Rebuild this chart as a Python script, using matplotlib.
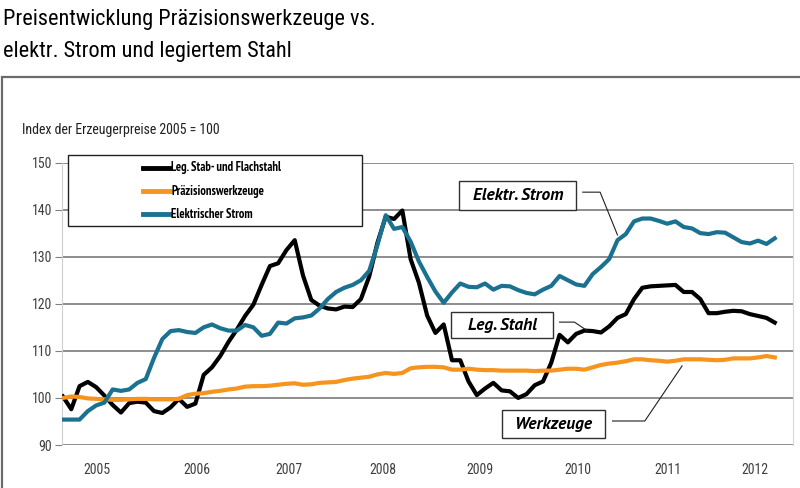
import matplotlib
matplotlib.use("Agg")
import matplotlib.pyplot as plt
from matplotlib.patches import Rectangle
from matplotlib.lines import Line2D

# narrow Arial-like look; falls back to Liberation/DejaVu if missing
plt.rcParams['font.family'] = ['Roboto Condensed', 'Liberation Sans', 'DejaVu Sans']
legend_font = ['PT Sans Narrow', 'Roboto Condensed', 'Liberation Sans', 'DejaVu Sans']
note_font = ['PT Sans', 'Liberation Sans', 'DejaVu Sans']

# monthly index values, Jan 2005 .. Mar 2012 (2005 = 100)
stahl = [100.3, 97.6, 102.5, 103.4, 102.3, 100.5, 98.5, 96.9, 98.9, 99.2,
         99.0, 97.2, 96.8, 98.0, 99.8, 98.1, 98.8, 104.9, 106.5, 108.9,
         111.9, 114.5, 117.4, 119.8, 124.0, 128.0, 128.6, 131.4, 133.5, 126.0,
         120.8, 119.6, 119.0, 118.8, 119.4, 119.3, 121.0, 125.8, 133.0, 138.5,
         138.0, 139.8, 129.5, 124.5, 117.5, 113.8, 115.6, 108.0, 108.0, 103.5,
         100.6, 102.0, 103.2, 101.6, 101.4, 100.0, 100.8, 102.7, 103.5, 107.5,
         113.4, 111.8, 113.6, 114.3, 114.2, 113.9, 115.2, 117.0, 117.8, 121.0,
         123.4, 123.7, 123.8, 123.9, 124.0, 122.5, 122.5, 121.0, 118.0, 118.0,
         118.3, 118.5, 118.4, 117.8, 117.4, 117.0, 116.0]

werkzeuge = [100.0, 100.3, 100.2, 99.9, 99.8, 99.7, 99.6, 99.6, 99.7, 99.8,
             99.8, 99.7, 99.7, 99.7, 99.8, 100.6, 100.9, 101.0, 101.3, 101.5,
             101.8, 102.0, 102.4, 102.5, 102.5, 102.6, 102.8, 103.0, 103.1, 102.8,
             102.9, 103.2, 103.3, 103.4, 103.8, 104.1, 104.3, 104.5, 105.0, 105.3,
             105.1, 105.3, 106.3, 106.5, 106.6, 106.6, 106.5, 106.0, 106.0, 106.2,
             106.0, 105.9, 105.9, 105.8, 105.8, 105.8, 105.8, 105.7, 105.8, 105.8,
             106.0, 106.2, 106.2, 106.0, 106.5, 107.0, 107.3, 107.5, 107.8, 108.2,
             108.2, 108.0, 107.9, 107.7, 107.9, 108.2, 108.2, 108.2, 108.1, 108.0,
             108.1, 108.4, 108.4, 108.4, 108.6, 108.9, 108.6]

strom = [95.4, 95.4, 95.4, 97.2, 98.4, 99.0, 101.8, 101.5, 101.8, 103.2,
         104.0, 108.5, 112.5, 114.2, 114.4, 114.0, 113.8, 115.0, 115.6, 114.8,
         114.3, 114.3, 115.5, 115.0, 113.2, 113.6, 116.0, 115.8, 116.9, 117.1,
         117.5, 119.0, 121.0, 122.5, 123.4, 124.0, 125.0, 127.0, 132.5, 138.8,
         135.9, 136.3, 133.2, 129.0, 125.7, 122.6, 120.2, 122.4, 124.3, 123.6,
         123.5, 124.3, 123.0, 123.8, 123.7, 122.9, 122.3, 122.0, 123.0, 123.8,
         125.9, 125.0, 124.1, 123.8, 126.3, 127.8, 129.5, 133.5, 134.8, 137.5,
         138.1, 138.1, 137.6, 137.0, 137.5, 136.3, 136.0, 135.0, 134.8, 135.2,
         135.1, 134.1, 133.1, 132.8, 133.4, 132.7, 133.9]

months = list(range(len(stahl)))

years = ['2005', '2006', '2007', '2008', '2009', '2010', '2011', '2012']
year_pos = [4.1, 16.2, 27.3, 38.6, 50.4, 62.2, 73.1, 83.6]

legend_labels = ['Leg. Stab- und Flachstahl', 'Präzisionswerkzeuge', 'Elektrischer Strom']
c_stahl = '#000000'
c_werk = '#F7941D'
c_strom = '#1B7290'

fig = plt.figure(figsize=(8, 4.88), dpi=100)
ax = fig.add_axes([0.0775, 0.0881, 0.9137, 0.5789])

ax.plot(months, stahl, color=c_stahl, lw=3, zorder=3)
ax.plot(months, werkzeuge, color=c_werk, lw=3, zorder=3)
ax.plot(months, strom, color=c_strom, lw=3, zorder=3)

ax.set_ylim(90, 150)
ax.set_xlim(-0.12, 88.2)
ax.set_yticks(range(90, 151, 10))
ax.set_xticks(year_pos)
ax.set_xticklabels(years)
ax.tick_params(axis='y', length=5, color='#808080', labelsize=10,
               labelcolor='#404040', pad=2)
ax.tick_params(axis='x', length=0, labelsize=10, labelcolor='#404040', pad=13)
ax.yaxis.grid(True, color='#7a7a7a', lw=1.2)
ax.set_axisbelow(True)
for s in ['top', 'bottom']:
    ax.spines[s].set_visible(False)
ax.spines['left'].set_color('#d0d0d0')
ax.spines['right'].set_color('#d8d8d8')


def px(x, y):
    # pixel position (from top-left) -> figure fraction
    return x / 800, 1 - y / 488


# outer frame
fig.add_artist(Rectangle((2 / 800, -0.1), 1.2, 1 - 77 / 488 + 0.1,
                         transform=fig.transFigure, fill=False,
                         edgecolor='#6b6b6b', lw=1.6))

# title and unit text
fig.text(*px(3, 19), 'Preisentwicklung Präzisionswerkzeuge vs.',
         fontsize=16, va='center', ha='left')
fig.text(*px(3, 51), 'elektr. Strom und legiertem Stahl',
         fontsize=16, va='center', ha='left')
fig.text(*px(22, 130), 'Index der Erzeugerpreise 2005 = 100',
         fontsize=10, va='center', ha='left', color='#202020')

# legend box
fig.add_artist(Rectangle(px(68, 226), 294 / 800, 71 / 488, transform=fig.transFigure,
                         facecolor='white', edgecolor='#202020', lw=1.0))
for lab, col, yy in zip(legend_labels, [c_stahl, c_werk, c_strom], [168, 191, 214]):
    x0, y0 = px(143, yy)
    x1, _ = px(170, yy)
    fig.add_artist(Line2D([x0, x1], [y0, y0], transform=fig.transFigure,
                          color=col, lw=3.5))
    fig.text(px(171, yy)[0], y0, lab, fontsize=9, fontweight='bold',
             family=legend_font, va='center', ha='left')

# annotation boxes with leader lines (data coordinates)
notes = [
    ('Elektr. Strom', (47.9, 139.9, 14.1, 6.2), [(62.8, 143.7), (64.9, 143.7), (67.0, 134.6)]),
    ('Leg. Stahl', (46.9, 112.7, 12.3, 5.5), [(60.0, 116.1), (61.8, 116.1), (63.4, 114.2)]),
    ('Werkzeuge', (53.0, 91.5, 12.5, 5.9), [(66.4, 95.1), (70.3, 95.1), (74.8, 106.8)]),
]
for txt, (bx, by, bw, bh), lead in notes:
    ax.add_patch(Rectangle((bx, by), bw, bh, facecolor='white', edgecolor='#303030',
                           lw=1.0, zorder=5))
    ax.text(bx + bw / 2, by + bh / 2, txt, fontsize=12.5, fontweight='bold',
            fontstyle='italic', family=note_font, ha='center', va='center', zorder=6)
    ax.plot([p[0] for p in lead], [p[1] for p in lead], color='#202020', lw=0.8,
            zorder=6)

fig.savefig('out.png', dpi=100)
